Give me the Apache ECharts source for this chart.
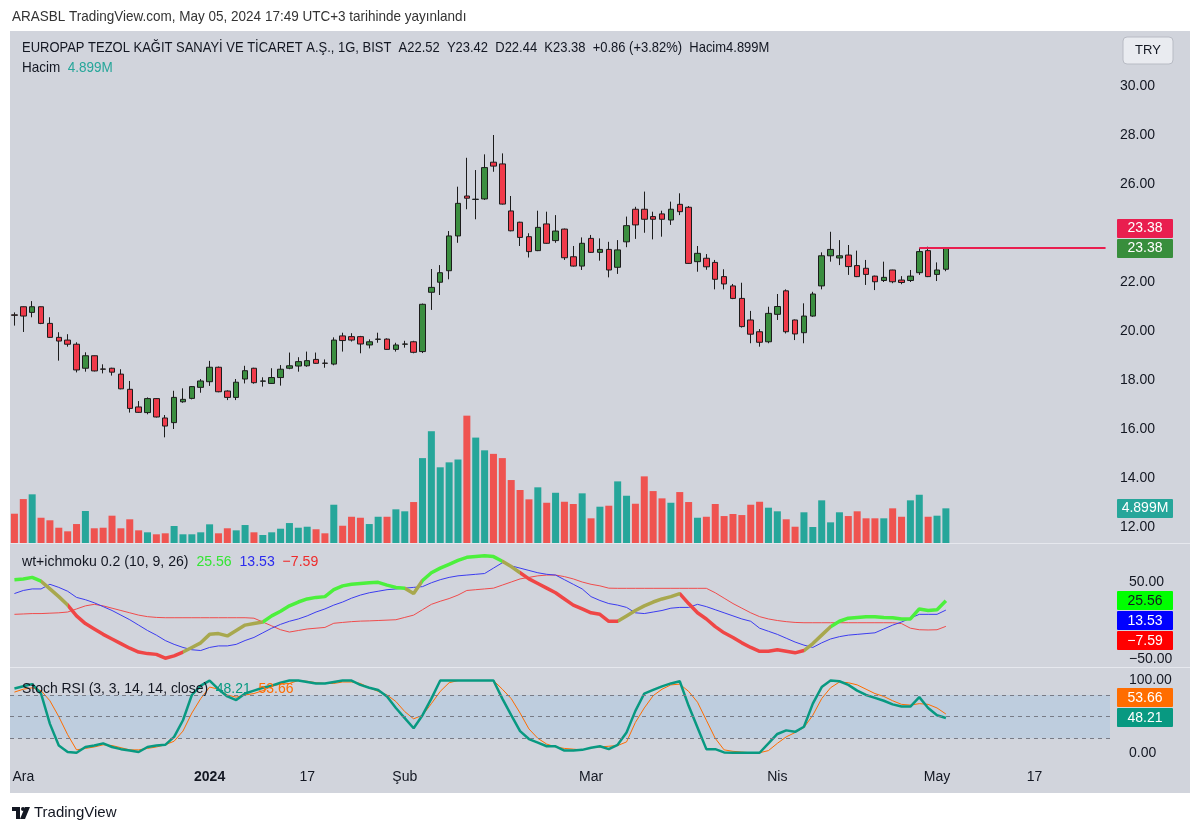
<!DOCTYPE html>
<html>
<head>
<meta charset="utf-8">
<title>EUROPAP TEZOL - 1G</title>
<script src="https://cdn.jsdelivr.net/npm/echarts@6/dist/echarts.min.js"></script>
<style>
  html, body { margin: 0; padding: 0; background: #ffffff; }
  #chart { width: 1200px; height: 834px; }
</style>
</head>
<body>
<div id="chart"></div>
<script>
// daily candles, 30 Kas 2023 .. 3 May 2024
const opens = [20.66, 20.99, 20.76, 20.99, 20.31, 19.74, 19.63, 19.46, 18.48, 18.99,
  18.45, 18.48, 18.24, 17.62, 16.90, 16.67, 17.24, 16.45, 16.26, 17.11,
  17.25, 17.70, 17.93, 18.52, 17.55, 17.29, 18.04, 18.48, 17.95, 17.86,
  18.10, 18.48, 18.57, 18.58, 18.84, 18.69, 18.65, 19.80, 19.77, 19.77,
  19.43, 19.66, 19.67, 19.25, 19.46, 19.56, 19.16, 21.58, 21.99, 22.46,
  23.88, 25.51, 25.37, 25.39, 26.89, 26.82, 24.90, 24.44, 23.85, 23.28,
  24.37, 23.69, 24.16, 23.03, 22.65, 23.78, 23.21, 23.33, 22.60, 23.64,
  24.97, 24.97, 24.67, 24.78, 24.53, 25.17, 25.05, 22.83, 22.97, 22.80,
  22.22, 21.84, 21.33, 20.45, 19.97, 19.56, 20.68, 21.64, 20.45, 19.93,
  20.61, 21.84, 23.07, 22.98, 23.10, 22.67, 22.56, 22.24, 22.06, 22.49,
  22.08, 22.06, 22.38, 23.28, 22.31, 22.52];
const closes = [20.64, 20.61, 20.99, 20.31, 19.74, 19.59, 19.46, 18.41, 18.99, 18.37,
  18.44, 18.32, 17.64, 16.84, 16.68, 17.24, 16.49, 16.12, 17.29, 17.21,
  17.73, 17.96, 18.52, 17.52, 17.29, 17.91, 18.38, 17.89, 17.96, 18.10,
  18.44, 18.58, 18.75, 18.79, 18.68, 18.68, 19.63, 19.61, 19.63, 19.47,
  19.56, 19.67, 19.25, 19.43, 19.47, 19.13, 21.09, 21.78, 22.38, 23.88,
  25.21, 25.42, 25.38, 26.67, 26.73, 25.18, 24.09, 23.82, 23.24, 24.23,
  23.58, 24.08, 22.99, 22.65, 23.58, 23.21, 23.33, 22.49, 23.31, 24.30,
  24.33, 24.56, 24.56, 24.56, 24.97, 24.87, 22.76, 23.17, 22.62, 22.11,
  21.92, 21.33, 20.18, 19.87, 19.54, 20.72, 21.00, 19.97, 19.88, 20.61,
  21.51, 23.07, 23.33, 23.07, 22.63, 22.22, 22.31, 22.01, 22.19, 22.01,
  21.98, 22.24, 23.24, 22.22, 22.49, 23.38];
const lows = [20.22, 19.96, 20.56, 20.28, 19.72, 18.79, 19.36, 18.31, 18.34, 18.35,
  18.27, 18.18, 17.62, 16.67, 16.66, 16.60, 16.47, 15.66, 16.00, 17.07,
  17.21, 17.48, 17.76, 17.50, 17.18, 17.18, 17.86, 17.85, 17.73, 17.84,
  17.77, 18.44, 18.34, 18.54, 18.66, 18.50, 18.60, 19.16, 19.57, 19.09,
  19.29, 19.52, 19.23, 19.16, 19.32, 19.09, 19.10, 20.86, 21.47, 22.11,
  23.60, 24.97, 24.56, 25.35, 26.50, 25.16, 24.07, 23.47, 23.00, 23.26,
  23.56, 23.60, 22.90, 22.63, 22.49, 23.19, 22.87, 22.19, 22.33, 23.42,
  23.76, 24.01, 23.74, 23.85, 24.33, 24.73, 22.74, 22.42, 22.50, 21.70,
  21.70, 21.30, 20.14, 19.50, 19.36, 19.50, 20.45, 19.90, 19.63, 19.50,
  20.58, 21.70, 22.83, 22.69, 22.29, 22.20, 21.88, 21.67, 22.00, 21.95,
  21.91, 22.00, 22.29, 22.20, 22.04, 22.44];
const highs = [20.76, 21.00, 21.22, 21.00, 20.56, 19.95, 19.87, 19.54, 19.13, 19.00,
  18.64, 18.50, 18.44, 17.96, 17.14, 17.29, 17.26, 16.57, 17.56, 17.66,
  17.75, 18.04, 18.78, 18.55, 17.58, 18.04, 18.58, 18.50, 18.11, 18.48,
  18.61, 19.12, 18.93, 19.16, 19.12, 18.84, 19.74, 19.93, 19.91, 19.80,
  19.66, 19.93, 19.70, 19.52, 19.60, 19.60, 21.12, 22.53, 22.69, 24.08,
  25.89, 27.07, 26.57, 27.21, 28.00, 27.25, 25.51, 24.46, 23.99, 24.91,
  24.87, 24.73, 24.18, 23.47, 23.82, 23.92, 23.78, 23.64, 23.71, 24.67,
  25.07, 25.69, 24.87, 24.91, 25.28, 25.62, 25.10, 23.47, 23.14, 22.90,
  22.52, 21.92, 21.97, 20.82, 20.08, 20.99, 21.51, 21.70, 20.47, 21.13,
  21.60, 23.21, 24.05, 23.71, 23.51, 23.28, 22.90, 22.26, 22.83, 22.50,
  22.24, 22.49, 23.38, 23.44, 22.80, 23.42];
// Hacim, millions
const volumes = [4.14, 6.21, 6.88, 3.57, 3.21, 2.16, 1.65, 2.68, 4.52, 2.08,
  2.16, 3.86, 2.08, 3.35, 1.79, 1.51, 1.23, 1.37, 2.40, 1.23,
  1.23, 1.51, 2.64, 1.37, 2.08, 1.79, 2.54, 1.51, 1.13, 1.51,
  2.02, 2.82, 2.16, 2.30, 1.94, 1.37, 5.41, 2.44, 3.71, 3.57,
  2.68, 3.71, 3.71, 4.76, 4.48, 5.79, 12.0, 15.8, 10.7, 11.4,
  11.8, 18.0, 14.9, 13.1, 12.6, 12.0, 8.90, 7.49, 6.17, 7.87,
  5.69, 7.10, 5.83, 5.51, 7.02, 3.49, 5.13, 5.27, 8.71, 6.68,
  5.55, 9.42, 7.34, 6.31, 5.69, 7.20, 5.79, 3.57, 3.71, 5.51,
  3.81, 4.10, 3.95, 5.41, 5.83, 4.99, 4.48, 3.35, 2.30, 4.34,
  2.26, 6.03, 2.92, 4.34, 3.81, 4.48, 3.49, 3.49, 3.49, 4.90,
  3.71, 6.03, 6.82, 3.71, 3.86, 4.899];

// wt+ichmoku 0.2 (10, 9, 26)
const wtMain = [53, 54, 56, 51, 41, 31, 20, 6, -4, -11,
  -18, -24, -30, -36, -41, -43, -44, -49, -46, -41,
  -35, -29, -18, -17, -20, -13, -6, -4, -2, 6,
  12, 19, 24, 28, 30, 31, 40, 45, 47, 48,
  49, 49.6, 46, 43, 42, 35, 52, 62, 68, 73,
  78, 82, 83, 84, 83, 77, 70, 62, 54, 48,
  42, 36, 28, 20, 15, 10, 8, -1, -1, 6,
  13, 19, 24, 28, 31, 35, 22, 10, 2, -8,
  -16, -22, -29, -35, -40, -40, -38, -40, -42, -39,
  -30, -19, -8, -1, 3, 4, 5, 5, 4, 3.6,
  2, 2, 15, 13, 14, 25.56];
const wtBlue = [35, 39, 41, 41, 47, 43, 38, 30, 27, 23,
  18, 13, 7, 1, -6, -13, -19, -26, -31, -35,
  -38, -39, -35, -33, -33, -31, -26, -22, -16, -10,
  -5, -1, 2, 6, 11, 15, 20, 24, 29, 33,
  36, 38, 40, 41, 42, 43, 44, 49, 53, 56,
  58, 59, 60, 61, 68, 75, 71, 68, 65, 62,
  60, 59, 53, 47, 41, 31, 26, 22, 20, 17,
  10, 9, 11, 13, 16, 17, 17, 21, 18, 14,
  10, 6, 2, -1, -10, -14, -18, -23, -28, -32,
  -35, -29, -24, -21, -19, -18, -17, -16, -11, -6,
  -2, 3, 8, 8, 8, 13.53];
const wtRed = [8, 8.5, 9, 9, 9.5, 10, 11, 15, 19, 21,
  19, 16, 13, 10, 7, 5, 4, 3.6, 3.6, 3.6,
  3.6, 3.6, 3.6, 3.6, 3.6, 3.6, 3.6, 3, -2, -7,
  -12, -15, -13, -11, -10, -9, -3.6, -2.5, -1.5, -0.8,
  -0.5, 0, 0.5, 1, 4, 7, 14, 21, 25, 28.5,
  33, 39, 40, 41, 42, 46, 50, 54, 56, 58,
  59, 59, 57, 54, 50, 47, 45, 42, 41.8, 41.8,
  41.8, 41.8, 41.8, 41.8, 41.8, 41.8, 41.8, 41.8, 41.8, 36,
  29, 22, 16, 10, 5, 2, 0, -1.5, -2.5, -2.9,
  -2.9, -2.9, -2.9, -2.9, -2.9, -2.9, -2.9, -2.9, -2.9, -2.9,
  -4, -10, -12, -12.3, -12, -7.59];
// colour state of the thick wt line: [from index, to index, state]
const wtSegments = [[0, 3, 'up'], [3, 6.2, 'mid'], [6.2, 18.8, 'down'], [18.8, 28.3, 'mid'],
  [28.3, 43.5, 'up'], [43.5, 45.7, 'mid'], [45.7, 55.2, 'up'], [55.2, 57.3, 'mid'],
  [57.3, 68.4, 'down'], [68.4, 75.3, 'mid'], [75.3, 89.3, 'down'], [89.3, 92.4, 'mid'],
  [92.4, 106, 'up']];

// Stoch RSI (3, 3, 14, 14, close)
const stochK = [89, 92, 95, 82, 40, 10, 1, 0, 8, 10,
  13, 8, 5, 3, 1, 8, 10, 11, 22, 45,
  80, 93, 100, 88, 78, 73, 82, 86, 90, 93,
  97, 100, 100, 98, 96, 96, 98, 100, 100, 94,
  90, 87, 78, 62, 48, 34, 52, 75, 100, 100,
  100, 100, 100, 100, 100, 75, 52, 30, 19, 14,
  9, 9, 3, 3, 4, 7, 9, 5, 11, 28,
  58, 82, 87, 92, 96, 99, 65, 35, 5, 5,
  0.5, 0, 0, 0, 0, 13, 26, 31, 29, 36,
  68, 91, 100, 99, 94, 86, 80, 76, 72, 67,
  64, 64, 77, 62, 52, 48.21];
const stochD = [84, 88, 90, 86, 72, 50, 25, 4, 6, 8,
  11, 10, 7, 4, 4, 6, 8, 11, 16, 30,
  55, 75, 91, 88, 80, 77, 80, 82, 86, 92,
  95, 96, 100, 99, 97, 96, 96, 98, 98, 96,
  90, 85, 80, 71, 57, 47, 52, 68, 85, 97,
  100, 100, 100, 100, 100, 88, 75, 55, 33, 20,
  12, 8, 6, 5, 4, 7, 8, 9, 10, 15,
  42, 62, 79, 88, 94, 95, 85, 70, 45, 20,
  4, 2, 1, 0, 0, 3, 13, 22, 28, 35,
  52, 75, 90, 98, 97, 94, 88, 82, 78, 72,
  67, 66, 68, 67, 62, 53.66];

// time axis
const timeTickIdx = [1, 22, 33, 44, 65, 86, 104, 115];
const timeTickText = ['Ara', '2024', '17', 'Şub', 'Mar', 'Nis', 'May', '17'];
const N_SLOTS = 124;              // candles + empty space on the right
const rayLevel = 23.38;           // horizontal ray drawn on the chart
const rayStartIdx = 102;

const FONT = "'Liberation Sans', Arial, sans-serif";
const TXT = '#131722';
const UP = '#26a69a', DOWN = '#ef5350';
const segColor = { up: '#4cf03c', mid: '#a8a84e', down: '#ef4646' };

const categories = Array.from({ length: N_SLOTS }, (_, i) => {
  const k = timeTickIdx.indexOf(i);
  return k >= 0 ? timeTickText[k] : '';
});
const last = closes.length - 1;

const grids = [
  { left: 10, right: 90, top: 86, height: 441 },        // price 12..30
  { left: 10, right: 90, top: 410, height: 133 },       // volume
  { left: 10, right: 90, top: 543.5, height: 123.2 },   // wt  -60..100
  { left: 10, right: 90, top: 666.1, height: 101.1 }    // stoch -20..120
];

const xAxes = grids.map((g, i) => ({
  type: 'category', gridIndex: i, data: categories, boundaryGap: true,
  axisLine: { show: false }, axisTick: { show: false }, splitLine: { show: false },
  axisLabel: i === 3 ? {
    interval: 0, margin: 3, color: TXT, fontSize: 14, fontFamily: FONT,
    formatter: v => v === '2024' ? '{b|2024}' : v,
    rich: { b: { fontWeight: 'bold', fontSize: 14, fontFamily: FONT, color: TXT } }
  } : { show: false }
}));

const axisText = { color: TXT, fontSize: 14, fontFamily: FONT };
const yAxes = [
  { gridIndex: 0, position: 'right', min: 12, max: 30, interval: 2,
    axisLabel: Object.assign({ margin: 10, formatter: v => v.toFixed(2) }, axisText) },
  { gridIndex: 1, min: 0, max: 18.8, show: false },
  { gridIndex: 2, position: 'right', min: -60, max: 100, interval: 10,
    axisLabel: Object.assign({ margin: 19, formatter: v => v === 50 ? '50.00' : (v === -50 ? '\u221250.00' : '') }, axisText) },
  { gridIndex: 3, position: 'right', min: -20, max: 120, interval: 10,
    axisLabel: Object.assign({ margin: 19, formatter: v => v === 0 ? '0.00' : (v === 100 ? '100.00' : '') }, axisText) }
].map(a => Object.assign({ type: 'value', scale: false, splitLine: { show: false },
  axisLine: { show: false }, axisTick: { show: false } }, a));

const option = {
  animation: false,
  backgroundColor: '#ffffff',
  grid: grids,
  xAxis: xAxes,
  yAxis: yAxes,
  visualMap: [{
    show: false, type: 'piecewise', seriesIndex: 4, dimension: 0,
    pieces: wtSegments.map(s => ({ gt: s[0], lte: s[1], color: segColor[s[2]] }))
      .map((p, i) => i === 0 ? { gte: wtSegments[0][0], lte: p.lte, color: p.color } : p)
  }],
  series: [
    {
      type: 'candlestick', xAxisIndex: 0, yAxisIndex: 0, barWidth: 6,
      data: opens.map((o, i) => [o, closes[i], lows[i], highs[i]]),
      itemStyle: { color: '#3b8e40', color0: '#f03a4a', borderColor: '#1c1c1c', borderColor0: '#1c1c1c', borderWidth: 1 },
      markLine: {
        silent: true, symbol: 'none', label: { show: false },
        lineStyle: { color: '#e91e4f', width: 2, type: 'solid' },
        data: [[{ coord: [rayStartIdx, rayLevel] }, { coord: [N_SLOTS - 1, rayLevel] }]]
      }
    },
    {
      type: 'bar', xAxisIndex: 1, yAxisIndex: 1, barWidth: 7,
      data: volumes.map((v, i) => ({ value: v, itemStyle: { color: closes[i] >= opens[i] ? UP : DOWN } }))
    },
    {
      type: 'line', xAxisIndex: 2, yAxisIndex: 2, data: wtRed, symbol: 'none',
      lineStyle: { color: '#f04c4c', width: 1 }
    },
    {
      type: 'line', xAxisIndex: 2, yAxisIndex: 2, data: wtBlue, symbol: 'none',
      lineStyle: { color: '#3c3cf0', width: 1 }
    },
    {
      type: 'line', xAxisIndex: 2, yAxisIndex: 2, data: wtMain, symbol: 'none',
      lineStyle: { width: 3.5 }
    },
    {
      type: 'line', xAxisIndex: 3, yAxisIndex: 3, data: stochD, symbol: 'none',
      lineStyle: { color: '#ff6d00', width: 1 },
      markArea: {
        silent: true, itemStyle: { color: 'rgba(33,150,243,0.10)' },
        data: [[{ yAxis: 20 }, { yAxis: 80 }]]
      },
      markLine: {
        silent: true, symbol: 'none', label: { show: false },
        lineStyle: { color: '#787b86', width: 1, type: [4, 4] },
        data: [{ yAxis: 80 }, { yAxis: 50 }, { yAxis: 20 }]
      }
    },
    {
      type: 'line', xAxisIndex: 3, yAxisIndex: 3, data: stochK, symbol: 'none',
      lineStyle: { color: '#089981', width: 2.5 }
    }
  ]
};

const chart = echarts.init(document.getElementById('chart'));
chart.setOption(option);

// value tags on the right scale, placed from the axes and pushed apart like the original
const yPx = (axis, v) => chart.convertToPixel({ yAxisIndex: axis }, v);
function tag(y, text, fill, textFill) {
  return [
    { type: 'rect', z: 50, shape: { x: 1117, y: Math.round(y - 9.5), width: 56, height: 19, r: 1 }, style: { fill: fill } },
    { type: 'text', z: 51, x: 1145, y: Math.round(y), style: { text: text, fill: textFill || '#ffffff',
      font: '14px ' + FONT, textAlign: 'center', textVerticalAlign: 'middle' } }
  ];
}
// narrow-looking header text (original uses a condensed face)
function txt(x, y, text, size, sx, extra) {
  return Object.assign({ type: 'text', x: x, y: y, scaleX: sx, scaleY: 1,
    style: Object.assign({ text: text, fill: TXT, font: size + 'px ' + FONT, textVerticalAlign: 'middle' }, extra || {}) });
}
const priceY = yPx(0, closes[last]);
const wtY0 = yPx(2, wtMain[last]);
const stY0 = yPx(3, stochK[last]);
const rich = (c, s) => ({ fill: c, font: s + 'px ' + FONT });

const graphics = [
  { type: 'rect', z: -10, shape: { x: 10, y: 31, width: 1180, height: 762 }, style: { fill: '#d1d4dc' } },
  { type: 'rect', z: -9, shape: { x: 10, y: 543, width: 1180, height: 1 }, style: { fill: '#e6e8ee' } },
  { type: 'rect', z: -9, shape: { x: 10, y: 667, width: 1180, height: 1 }, style: { fill: '#e6e8ee' } },
  txt(12, 17, 'ARASBL TradingView.com, May 05, 2024 17:49 UTC+3 tarihinde yayınlandı', 15, 0.9, { fill: '#333' }),
  txt(22, 48, 'EUROPAP TEZOL KAĞIT SANAYİ VE TİCARET A.Ş., 1G, BIST  A22.52  Y23.42  D22.44  K23.38  +0.86 (+3.82%)  Hacim4.899M', 15, 0.865),
  txt(22, 68, '{a|Hacim}  {b|4.899M}', 15, 0.9, { rich: { a: rich(TXT, 15), b: rich(UP, 15) } }),
  { type: 'rect', shape: { x: 1123, y: 37, width: 50, height: 27, r: 4 }, style: { fill: '#e9ebf0', stroke: '#b8bbc4', lineWidth: 1 } },
  { type: 'text', x: 1148, y: 50.5, style: { text: 'TRY', fill: TXT, font: '13px ' + FONT, textAlign: 'center', textVerticalAlign: 'middle' } },
  txt(22, 562, '{a|wt+ichmoku 0.2 (10, 9, 26)}  {g|25.56}  {b|13.53}  {r|\u22127.59}', 15, 0.94,
    { rich: { a: rich(TXT, 15), g: rich('#33e633', 15), b: rich('#2b2bee', 15), r: rich('#ee2b2b', 15) } }),
  Object.assign(txt(22, 689, '{a|Stoch RSI (3, 3, 14, 14, close)}  {k|48.21}  {d|53.66}', 15, 0.93,
    { rich: { a: rich(TXT, 15), k: rich('#089981', 15), d: rich('#ff6d00', 15) } }), { z: 60 }),
  // TradingView mark
  { type: 'rect', shape: { x: 12, y: 807, width: 8, height: 4 }, style: { fill: '#131722' } },
  { type: 'rect', shape: { x: 16, y: 807, width: 4, height: 12 }, style: { fill: '#131722' } },
  { type: 'circle', shape: { cx: 23, cy: 809, r: 2 }, style: { fill: '#131722' } },
  { type: 'polygon', shape: { points: [[25, 807], [30, 807], [25, 819], [20, 819]] }, style: { fill: '#131722' } },
  txt(34, 813, 'TradingView', 15, 1, { fill: '#131722' })
].concat(
  tag(priceY - 20, rayLevel.toFixed(2), '#e91e4f'),
  tag(priceY, closes[last].toFixed(2), '#388e3c'),
  tag(yPx(1, volumes[last]), volumes[last].toFixed(3) + 'M', UP),
  tag(wtY0, wtMain[last].toFixed(2), '#00ff00', '#131722'),
  tag(wtY0 + 20, wtBlue[last].toFixed(2), '#0000ff'),
  tag(wtY0 + 40, '\u2212' + Math.abs(wtRed[last]).toFixed(2), '#ff0000'),
  tag(stY0 - 20, stochD[last].toFixed(2), '#ff6d00'),
  tag(stY0, stochK[last].toFixed(2), '#089981')
);
chart.setOption({ graphic: graphics });
</script>
</body>
</html>
